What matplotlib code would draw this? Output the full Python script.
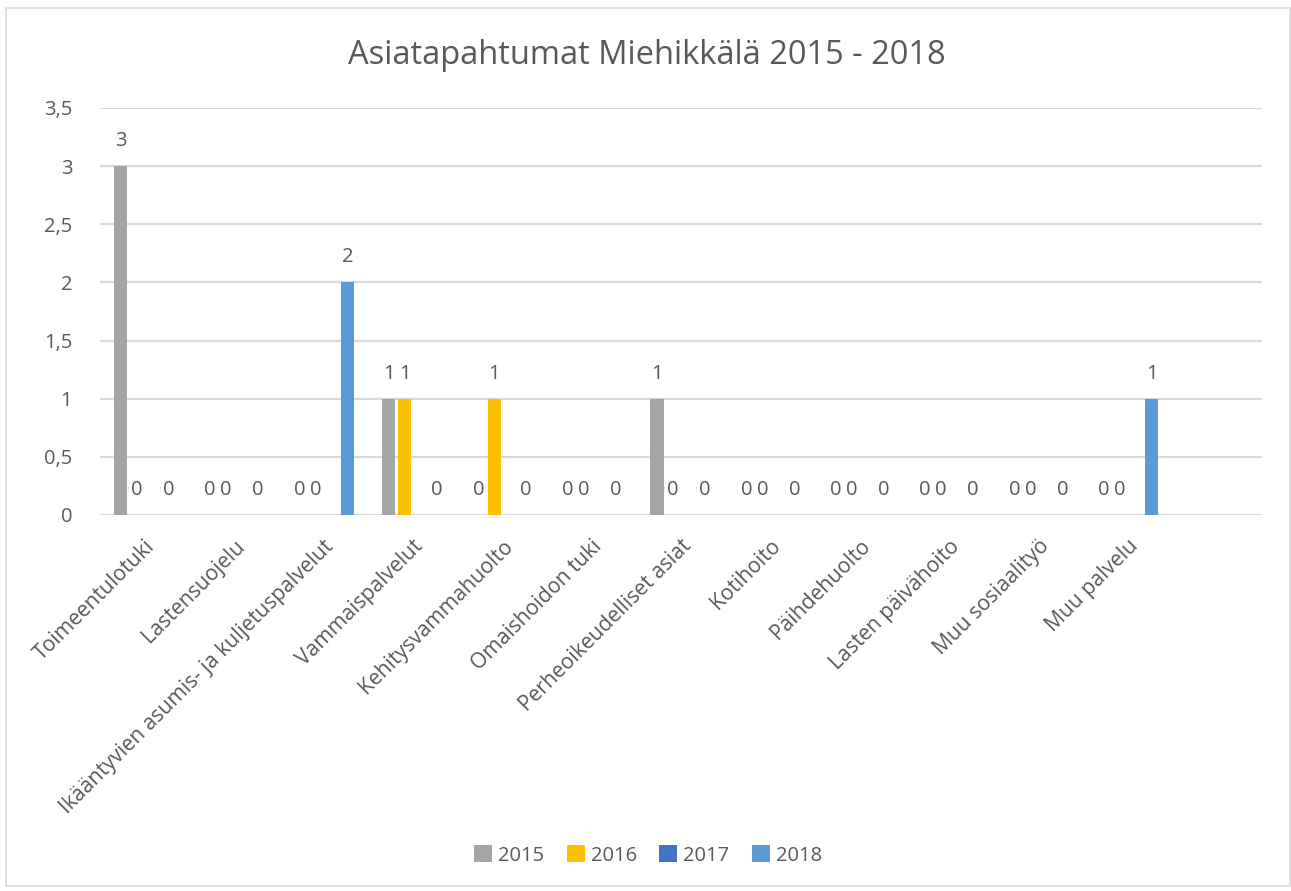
import matplotlib as mpl
import matplotlib.pyplot as plt
import numpy as np

mpl.use("agg")

# categories (last one is an empty slot in the original workbook)
kategoriat = [
    "Toimeentulotuki",
    "Lastensuojelu",
    "Ikääntyvien asumis- ja kuljetuspalvelut",
    "Vammaispalvelut",
    "Kehitysvammahuolto",
    "Omaishoidon tuki",
    "Perheoikeudelliset asiat",
    "Kotihoito",
    "Päihdehuolto",
    "Lasten päivähoito",
    "Muu sosiaalityö",
    "Muu palvelu",
    "",
]
vuodet = ["2015", "2016", "2017", "2018"]
nan = np.nan
v2015 = [3, 0, 0, 1, 0, 0, 1, 0, 0, 0, 0, 0, nan]
v2016 = [0, 0, 0, 1, 1, 0, 0, 0, 0, 0, 0, 0, nan]
v2017 = [nan] * 13
v2018 = [0, 0, 2, 0, 0, 0, 0, 0, 0, 0, 0, 1, nan]
arvot = [v2015, v2016, v2017, v2018]

varit = ["#A5A5A5", "#FFC000", "#4472C4", "#5B9BD5"]
teksti = "#595959"

plt.rcParams["font.family"] = ["Open Sans", "DejaVu Sans"]

fig = plt.figure(figsize=(12.91, 8.91), dpi=100)
ax = fig.add_axes([0.0775, 0.422, 0.9, 0.4568])

x = np.arange(len(kategoriat))
askel = 0.179
leveys = 0.146
for k, (vuosi, data, vari) in enumerate(zip(vuodet, arvot, varit)):
    xs = x + (k - 1.5) * askel
    data = np.array(data, dtype=float)
    ax.bar(xs, np.nan_to_num(data), width=leveys, color=vari, label=vuosi, zorder=3)
    for xi, yi in zip(xs, data):
        if np.isnan(yi):
            continue
        ax.annotate(f"{yi:g}", (xi, yi), xytext=(0, 18), textcoords="offset points",
                    ha="center", va="center", fontsize=14.5, color=teksti)

ax.set_xlim(-0.5, len(kategoriat) - 0.5)
ax.set_ylim(0, 3.5)
ax.set_yticks(np.arange(0, 3.51, 0.5))
ax.set_yticklabels([f"{t:g}".replace(".", ",") for t in np.arange(0, 3.51, 0.5)])
ax.set_xticks(x)
ax.set_xticklabels(kategoriat, rotation=45, ha="right", rotation_mode="anchor")
ax.tick_params(axis="both", length=0, labelsize=14.5, labelcolor=teksti)
ax.tick_params(axis="x", pad=15, labelsize=15.2)
ax.tick_params(axis="y", pad=20)
ax.grid(axis="y", color="#D9D9D9", linewidth=1.6, zorder=0)
for s in ax.spines.values():
    s.set_visible(False)

fig.text(0.501, 0.938, "Asiatapahtumat Miehikkälä 2015 - 2018", ha="center", va="center",
         fontsize=23.5, color=teksti)

fig.legend(loc="center", bbox_to_anchor=(0.502, 0.04), ncol=4, frameon=False,
           fontsize=14.5, labelcolor=teksti, handlelength=0.9, handleheight=0.9,
           handletextpad=0.3, columnspacing=1.1)

fig.patches.append(mpl.patches.Rectangle((0.005, 0.006), 0.994, 0.985, transform=fig.transFigure,
                                         fill=False, edgecolor="#D9D9D9", linewidth=1.2))

fig.savefig("out.png", dpi=100, facecolor="white")
